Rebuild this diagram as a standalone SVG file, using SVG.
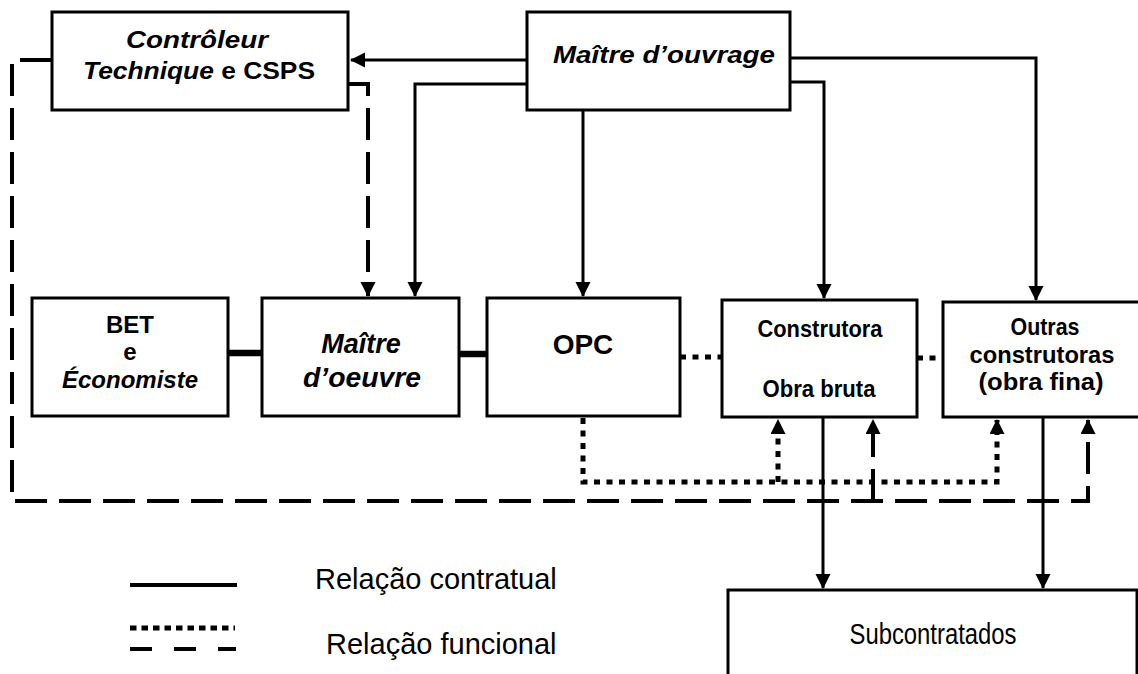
<svg xmlns="http://www.w3.org/2000/svg" width="1138" height="674" viewBox="0 0 1138 674">
<style>
.box{fill:#fff;stroke:#000;stroke-width:3}
.t{font-family:"Liberation Sans",Arial,sans-serif;fill:#000;text-anchor:middle}
.b{font-weight:bold}
.i{font-style:italic}
.solid{fill:none;stroke:#000;stroke-width:3}
.thick{fill:none;stroke:#000;stroke-width:6.5}
.dash{fill:none;stroke:#000;stroke-width:4;stroke-dasharray:32 12}
.dot{fill:none;stroke:#000;stroke-width:5;stroke-dasharray:6 6.5}
</style>
<defs>
<marker id="ah" markerUnits="userSpaceOnUse" markerWidth="16" markerHeight="16" refX="14" refY="7.5" orient="auto">
<path d="M0,0 L15,7.5 L0,15 z" fill="#000"/>
</marker>
</defs>
<rect width="1138" height="674" fill="#fff"/>
<g id="connectors">
<path class="solid" d="M527,60 H351" marker-end="url(#ah)"/>
<path class="solid" d="M527,84 H415 V296" marker-end="url(#ah)"/>
<path class="dash" d="M348,84 H368 V296" marker-end="url(#ah)"/>
<path class="solid" d="M583,110 V296" marker-end="url(#ah)"/>
<path class="solid" d="M790,82 H824 V298" marker-end="url(#ah)"/>
<path class="solid" d="M790,58 H1036 V300" marker-end="url(#ah)"/>
<path class="thick" d="M228,353 H262"/>
<path class="thick" d="M459,354 H488"/>
<path class="dot" d="M680,357 H722"/>
<path class="dot" d="M917,358 H943"/>
<path class="dot" d="M583,418 V482 H997 V420" marker-end="url(#ah)"/>
<path class="dot" d="M778,482 V420" marker-end="url(#ah)"/>
<path class="dash" d="M52,60 H12 V501 H1088 V420" marker-end="url(#ah)"/>
<path class="dash" d="M873,501 V420" marker-end="url(#ah)"/>
<path class="solid" d="M823,418 V588" marker-end="url(#ah)"/>
<path class="solid" d="M1043,418 V588" marker-end="url(#ah)"/>
</g>
<g id="controleur">
<rect class="box" x="52" y="12" width="296" height="98"/>
<text class="t b i" x="197" y="48" font-size="24" textLength="142" lengthAdjust="spacingAndGlyphs">Contrôleur</text>
<text class="t b" x="199" y="79" font-size="24" textLength="232" lengthAdjust="spacingAndGlyphs"><tspan font-style="italic">Technique</tspan> e CSPS</text>
</g>
<g id="maitre-ouvrage">
<rect class="box" x="527" y="12" width="263" height="98"/>
<text class="t b i" x="664" y="63" font-size="24" textLength="222" lengthAdjust="spacingAndGlyphs">Maître d’ouvrage</text>
</g>
<g id="bet">
<rect class="box" x="32" y="298" width="196" height="118"/>
<text class="t b" x="130" y="333" font-size="24">BET</text>
<text class="t b" x="130" y="360" font-size="24">e</text>
<text class="t b i" x="130" y="388" font-size="24">Économiste</text>
</g>
<g id="maitre-oeuvre">
<rect class="box" x="262" y="298" width="197" height="118"/>
<text class="t b i" x="361" y="353" font-size="27">Maître</text>
<text class="t b i" x="362" y="387" font-size="27" textLength="118" lengthAdjust="spacingAndGlyphs">d’oeuvre</text>
</g>
<g id="opc">
<rect class="box" x="487" y="298" width="193" height="118"/>
<text class="t b" x="583" y="354" font-size="28">OPC</text>
</g>
<g id="construtora">
<rect class="box" x="722" y="300" width="195" height="117"/>
<text class="t b" x="820" y="337" font-size="24" textLength="125" lengthAdjust="spacingAndGlyphs">Construtora</text>
<text class="t b" x="819" y="397" font-size="24" textLength="113" lengthAdjust="spacingAndGlyphs">Obra bruta</text>
</g>
<g id="outras">
<rect class="box" x="943" y="302" width="198" height="115"/>
<text class="t b" x="1045" y="335" font-size="24.5" textLength="69" lengthAdjust="spacingAndGlyphs">Outras</text>
<text class="t b" x="1042" y="363" font-size="24.5" textLength="145" lengthAdjust="spacingAndGlyphs">construtoras</text>
<text class="t b" x="1041" y="390" font-size="24.5" textLength="125" lengthAdjust="spacingAndGlyphs">(obra fina)</text>
</g>
<g id="subcontratados">
<rect class="box" x="728" y="590" width="409" height="100"/>
<text class="t" x="933" y="644" font-size="29" textLength="167" lengthAdjust="spacingAndGlyphs">Subcontratados</text>
</g>
<g id="legend">
<path class="solid" d="M130,585 H237" style="stroke-width:4"/>
<path class="dot" d="M130,628 H235" style="stroke-dasharray:6.5 5"/>
<path class="dash" d="M130,649 H236" style="stroke-dasharray:22 22"/>
<text class="t" x="315" y="589" font-size="29" style="text-anchor:start">Relação contratual</text>
<text class="t" x="326" y="654" font-size="29" style="text-anchor:start">Relação funcional</text>
</g>
</svg>
